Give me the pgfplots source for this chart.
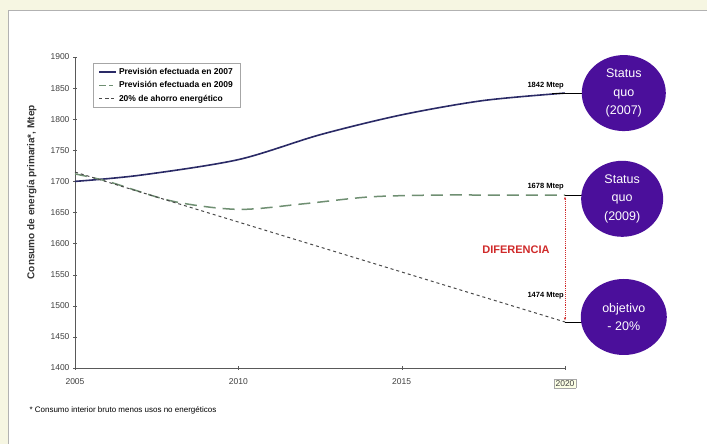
\documentclass[border=0pt]{standalone}
\usepackage{fontspec}
\setmainfont{Liberation Sans}
\usepackage{pgfplots}
\pgfplotsset{compat=1.18}
\usetikzlibrary{arrows.meta}
\definecolor{cream}{HTML}{F6F6E2}
\definecolor{navy}{HTML}{2A2A66}
\definecolor{sage}{HTML}{6F8F72}
\definecolor{tgt}{HTML}{4A4A4A}
\definecolor{purp}{HTML}{4B0F9B}
\definecolor{difred}{HTML}{D02A2A}
\begin{document}
\begin{tikzpicture}[x=1pt,y=1pt]
\fill[cream] (0,0) rectangle (707,444);
\useasboundingbox (0,0) rectangle (707,444);
\fill[white] (8,0) rectangle (707,434);
\draw[gray!60] (8,0) -- (8,434) -- (707,434);
\begin{axis}[
  at={(75pt,76pt)}, anchor=south west,
  scale only axis, width=490pt, height=311pt,
  xmin=2005, xmax=2020, ymin=1400, ymax=1900,
  axis lines=left, axis line style={-, gray!70!black, line width=0.8pt},
  xtick={2005,2010,2015,2020},
  xticklabels={2005,2010,2015,{\setlength\fboxsep{1.5pt}\fcolorbox{gray!70}{green!12!yellow!10}{2020}}},
  ytick={1400,1450,...,1900},
  tick align=center, major tick length=4pt,
  tick style={gray!70!black},
  /pgf/number format/assume math mode=true,
  /pgf/number format/1000 sep={},
  ticklabel style={font=\fontsize{8.5}{9.5}\selectfont, text=black!75},
  xticklabel style={yshift=-5pt},
  ylabel={Consumo de energía primaria*, Mtep},
  ylabel style={at={(axis description cs:-0.088,0.565)}, anchor=center, font=\fontsize{10}{11}\selectfont\bfseries, text=black!80},
  clip=false,
  legend style={at={(axis description cs:0.037,0.98)}, anchor=north west,
    draw=gray!70, font=\fontsize{8.5}{9.5}\selectfont\bfseries, row sep=1.5pt,
    inner xsep=5pt, inner ysep=3pt},
  legend cell align=left,
]
\addplot[navy, line width=1.6pt, smooth, tension=0.5] coordinates {
  (2005,1700) (2007,1710) (2010,1735) (2012.5,1775) (2015,1807) (2017.5,1830) (2020,1842)};
\addlegendentry{Previsión efectuada en 2007}
\addplot[sage, line width=1.5pt, dash pattern=on 12pt off 7pt, smooth, tension=0.5,
  legend image code/.code={\draw[sage, line width=1.5pt, dash pattern=on 7pt off 3pt] (0cm,0cm) -- (0.5cm,0cm);}] coordinates {
  (2005,1712) (2006,1700) (2008,1668) (2010,1655) (2012,1664) (2014,1675) (2016,1678) (2018,1678) (2020,1678)};
\addlegendentry{Previsión efectuada en 2009}
\addplot[tgt, line width=1pt, dash pattern=on 3pt off 3pt] coordinates {
  (2005,1715) (2020,1474)};
\addlegendentry{20\% de ahorro energético}
% difference arrow
\draw[difred, densely dotted, line width=0.9pt, {Latex[length=3pt]}-{Latex[length=3pt]}]
  (axis cs:2020,1676) -- (axis cs:2020,1476);
\node[difred, font=\fontsize{11}{12}\selectfont\bfseries] at (axis cs:2018.5,1590) {DIFERENCIA};
% value labels
\node[font=\fontsize{7.5}{8.5}\selectfont\bfseries, anchor=south east, inner xsep=1pt] at (axis cs:2020,1843) {1842 Mtep};
\node[font=\fontsize{7.5}{8.5}\selectfont\bfseries, anchor=south east, inner xsep=1pt] at (axis cs:2020,1681) {1678 Mtep};
\node[font=\fontsize{7.5}{8.5}\selectfont\bfseries, anchor=east, inner xsep=1pt] at (axis cs:2020,1517) {1474 Mtep};
% connectors
\draw[black, line width=0.8pt] (axis cs:2019.6,1842) -- (axis cs:2020.6,1842);
\draw[black, line width=0.8pt] (axis cs:2020,1678) -- (axis cs:2020.6,1678);
\draw[black, line width=0.8pt] (axis cs:2020,1474) -- (axis cs:2020.6,1474);
% ellipses
\fill[purp] (axis cs:2021.8,1842) ellipse [x radius=42pt, y radius=38pt];
\fill[purp] (axis cs:2021.75,1672) ellipse [x radius=41pt, y radius=38pt];
\fill[purp] (axis cs:2021.8,1482) ellipse [x radius=43pt, y radius=38pt];
\node[white, align=center, font=\fontsize{12.5}{18.5}\selectfont] at (axis cs:2021.8,1842) {Status\\quo\\(2007)};
\node[white, align=center, font=\fontsize{12.5}{18.5}\selectfont] at (axis cs:2021.75,1672) {Status\\quo\\(2009)};
\node[white, align=center, font=\fontsize{12.5}{18.5}\selectfont] at (axis cs:2021.8,1482) {objetivo\\- 20\%};
\end{axis}
\node[anchor=west, font=\fontsize{8}{9}\selectfont] at (26,34) {* Consumo interior bruto menos usos no energéticos};
\end{tikzpicture}
\end{document}
